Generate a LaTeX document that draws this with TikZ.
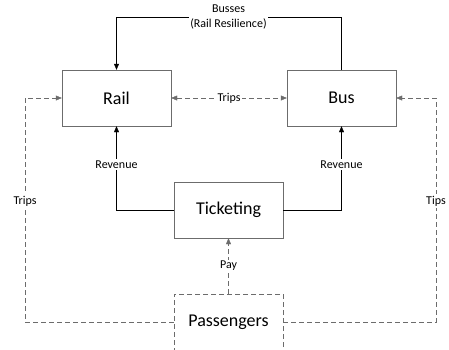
\documentclass[tikz,border=0pt]{standalone}
\usepackage{fontspec}
\setmainfont{Carlito}
\usetikzlibrary{arrows.meta,positioning}

\begin{document}
\begin{tikzpicture}[x=1pt,y=-1pt,
    box/.style={draw=gray!85!black, minimum width=109pt, minimum height=56pt,
      inner sep=0pt, font=\fontsize{18}{20}\selectfont},
    lbl/.style={fill=white, inner sep=1.5pt, font=\fontsize{12}{15}\selectfont},
    flow/.style={-{Triangle[length=6pt,width=5pt]}},
    dflow/.style={flow, draw=gray!85!black, dash pattern=on 5pt off 3pt}]
  \useasboundingbox (0,0) rectangle (449,349);

  \node[box] (rail) at (116.5,98) {Rail};
  \node[box] (bus) at (341.5,98) {Bus};
  \node[box] (ticket) at (228.5,210) {Ticketing};
  \node[box, dash pattern=on 5pt off 3pt] (pass) at (228.5,322) {Passengers};
  \node[lbl, align=center] (busses) at (228.5,17) {Busses\\(Rail Resilience)};

  % corners of the outer loops
  \coordinate (tl) at (25,98);
  \coordinate (tr) at (436,98);

  % solid flows
  \draw[flow] (bus.north) |- (busses) -| (rail.north);
  \draw[flow] (ticket.west) -| node[lbl, pos=0.77] {Revenue} (rail.south);
  \draw[flow] (ticket.east) -| node[lbl, pos=0.77] {Revenue} (bus.south);

  % dashed flows
  \draw[dflow, {Triangle[length=6pt,width=5pt]}-{Triangle[length=6pt,width=5pt]}]
    (rail) -- node[lbl] {Trips} (bus);
  \draw[dflow] (pass) -- node[lbl] {Pay} (ticket);
  \draw[dflow] (pass.west) -| node[lbl, pos=0.77] {Trips} (tl) -- (rail.west);
  \draw[dflow] (pass.east) -| node[lbl, pos=0.77] {Tips} (tr) -- (bus.east);
\end{tikzpicture}
\end{document}
